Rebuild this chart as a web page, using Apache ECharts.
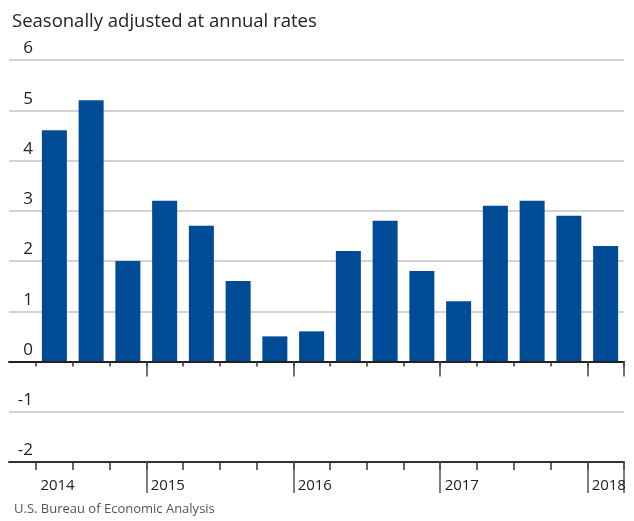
<!DOCTYPE html>
<html>
<head>
<meta charset="utf-8">
<script src="https://cdn.jsdelivr.net/npm/echarts@6/dist/echarts.min.js"></script>
<style>
  html, body { margin: 0; padding: 0; background: #fff; }
  #chart { width: 634px; height: 521px; }
</style>
</head>
<body>
<div id="chart"></div>
<script>
// quarters shown, one bar each
var quarters = ['2014 Q2', '2014 Q3', '2014 Q4',
  '2015 Q1', '2015 Q2', '2015 Q3', '2015 Q4',
  '2016 Q1', '2016 Q2', '2016 Q3', '2016 Q4',
  '2017 Q1', '2017 Q2', '2017 Q3', '2017 Q4',
  '2018 Q1'];
// percent change, seasonally adjusted at annual rates
var values = [4.6, 5.2, 2.0, 3.2, 2.7, 1.6, 0.5, 0.6, 2.2, 2.8, 1.8, 1.2, 3.1, 3.2, 2.9, 2.3];
// year labels under the axis
var yearLabels = ['2014', '', '', '2015', '', '', '', '2016', '', '', '', '2017', '', '', '', '2018'];
var yTicks = [-2, -1, 0, 1, 2, 3, 4, 5, 6];

var FONT = '"Open Sans", sans-serif';
var DARK = '#222';

var myChart = echarts.init(document.getElementById('chart'));

var yMin = yTicks[0], yMax = yTicks[yTicks.length - 1];
var plotTop = 60, plotBottom = 59;
// pixel of the zero line, so a grid can end there for its ticks
var zeroBottom = plotBottom + (521 - plotTop - plotBottom) * (0 - yMin) / (yMax - yMin);

// year boundary ticks (left edge of each Q1)
function isYearTick(i) { return i % 4 === 3; }

function tickAxis(grid, len, yearOnly, color) {
    return {
        gridIndex: grid, type: 'category', data: quarters, position: 'bottom', z: 5,
        axisLine: { show: false, onZero: false },
        axisTick: {
            show: true, length: len,
            interval: yearOnly ? function (i) { return isYearTick(i); } : 0,
            lineStyle: { color: color, width: 1.5 }
        },
        axisLabel: { show: false }
    };
}

var labelAxis = tickAxis(1, 8, false, '#333');
labelAxis.axisLabel = {
    show: true,
    interval: function (i) { return yearLabels[i] !== ''; },
    formatter: function (v, i) { return yearLabels[i]; },
    align: 'left', padding: [0, 0, 0, -14], margin: 16,
    fontSize: 15, color: DARK, fontFamily: FONT
};

var option = {
    animation: false,
    textStyle: { fontFamily: FONT },
    title: [
        {
            text: 'Seasonally adjusted at annual rates',
            left: 7, top: 7,
            textStyle: { fontFamily: FONT, fontSize: 18.5, fontWeight: 'normal', color: DARK }
        },
        {
            text: 'U.S. Bureau of Economic Analysis',
            left: 9, bottom: 0,
            textStyle: { fontFamily: FONT, fontSize: 13, fontWeight: 'normal', color: '#555' }
        }
    ],
    grid: [
        { left: 9, right: 10, top: plotTop, bottom: plotBottom },     // gridlines + y labels
        { left: 36, right: 10, top: plotTop, bottom: plotBottom },    // bars, bottom ticks
        { left: 36, right: 10, top: plotTop, bottom: zeroBottom }     // ticks on zero line
    ],
    yAxis: [
        {
            gridIndex: 0, type: 'value', min: yMin, max: yMax, interval: 1,
            axisLine: { show: false }, axisTick: { show: false },
            axisLabel: {
                inside: true, margin: 24, align: 'right', verticalAlign: 'bottom',
                padding: [0, 0, 3, 0],
                fontSize: 17, color: DARK, fontFamily: FONT
            },
            splitLine: { lineStyle: { color: '#c4c4c4', width: 1.5 } }
        },
        { gridIndex: 1, type: 'value', min: yMin, max: yMax, interval: 1, show: false },
        { gridIndex: 2, type: 'value', show: false }
    ],
    xAxis: [
        // zero line, full width
        {
            gridIndex: 0, type: 'category', data: [''], z: 5,
            axisLine: { onZero: true, lineStyle: { color: DARK, width: 2 } },
            axisTick: { show: false }, axisLabel: { show: false }
        },
        // bottom line at -2, full width
        {
            gridIndex: 0, type: 'category', data: [''], position: 'bottom', z: 5,
            axisLine: { onZero: false, lineStyle: { color: '#333', width: 2 } },
            axisTick: { show: false }, axisLabel: { show: false }
        },
        labelAxis,                       // 2: bars, quarter ticks + year labels at bottom
        tickAxis(1, 31, true, '#555'),   // 3: year ticks at bottom
        tickAxis(2, 5, false, '#333'),   // 4: quarter ticks on zero line
        tickAxis(2, 15, true, '#444')    // 5: year ticks on zero line
    ],
    series: [
        {
            type: 'bar',
            xAxisIndex: 2, yAxisIndex: 1,
            data: values,
            barWidth: 25,
            itemStyle: { color: '#004b96' }
        }
    ]
};

myChart.setOption(option);
</script>
</body>
</html>
